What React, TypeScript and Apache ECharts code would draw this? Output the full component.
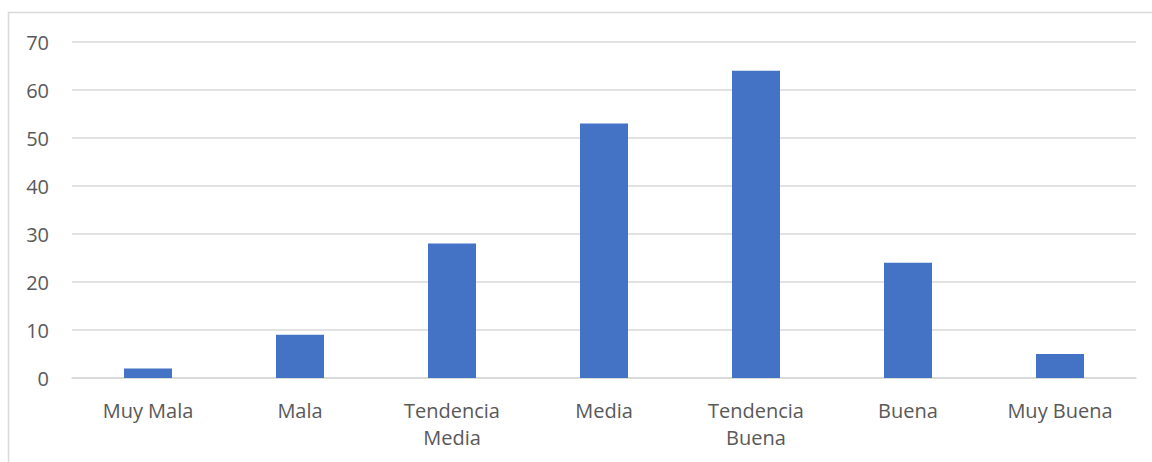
import React, { useEffect, useRef } from "react";
import * as echarts from "echarts";

const categories = ["Muy Mala", "Mala", "Tendencia\nMedia", "Media", "Tendencia\nBuena", "Buena", "Muy Buena"];
const values = [2, 9, 28, 53, 64, 24, 5];
const yTicks = { min: 0, max: 70, interval: 10 };

export default function App() {
  const ref = useRef<HTMLDivElement>(null);
  useEffect(() => {
    if (!ref.current) return;
    const chart = echarts.init(ref.current, null, { renderer: "svg" });
    chart.setOption({
      animation: false,
      backgroundColor: "#ffffff",
      textStyle: { fontFamily: "'Open Sans', 'Liberation Sans', sans-serif" },
      graphic: [
        {
          type: "rect",
          shape: { x: 8.5, y: 12.5, width: 1200, height: 500 },
          style: { fill: "none", stroke: "#d9d9d9", lineWidth: 1.5 },
          silent: true,
        },
      ],
      grid: { left: 72, right: 16, top: 42, bottom: 84 },
      xAxis: {
        type: "category",
        data: categories,
        axisLine: { show: true, lineStyle: { color: "#d9d9d9", width: 1.5 } },
        axisTick: { show: false },
        axisLabel: {
          color: "#595959",
          fontSize: 20,
          lineHeight: 27,
          margin: 19,
          interval: 0,
          fontFamily: "'Open Sans', 'Liberation Sans', sans-serif",
        },
      },
      yAxis: {
        type: "value",
        min: yTicks.min,
        max: yTicks.max,
        interval: yTicks.interval,
        axisLine: { show: false },
        axisTick: { show: false },
        splitLine: { lineStyle: { color: "#d9d9d9", width: 1.5 } },
        axisLabel: {
          color: "#595959",
          fontSize: 20,
          margin: 23,
          fontFamily: "'Open Sans', 'Liberation Sans', sans-serif",
        },
      },
      series: [
        {
          type: "bar",
          data: values,
          barWidth: 48,
          itemStyle: { color: "#4472C4" },
        },
      ],
    });
    return () => chart.dispose();
  }, []);
  return (
    <div
      ref={ref}
      style={{ position: "fixed", left: 0, top: 0, width: 1152, height: 462 }}
    />
  );
}
